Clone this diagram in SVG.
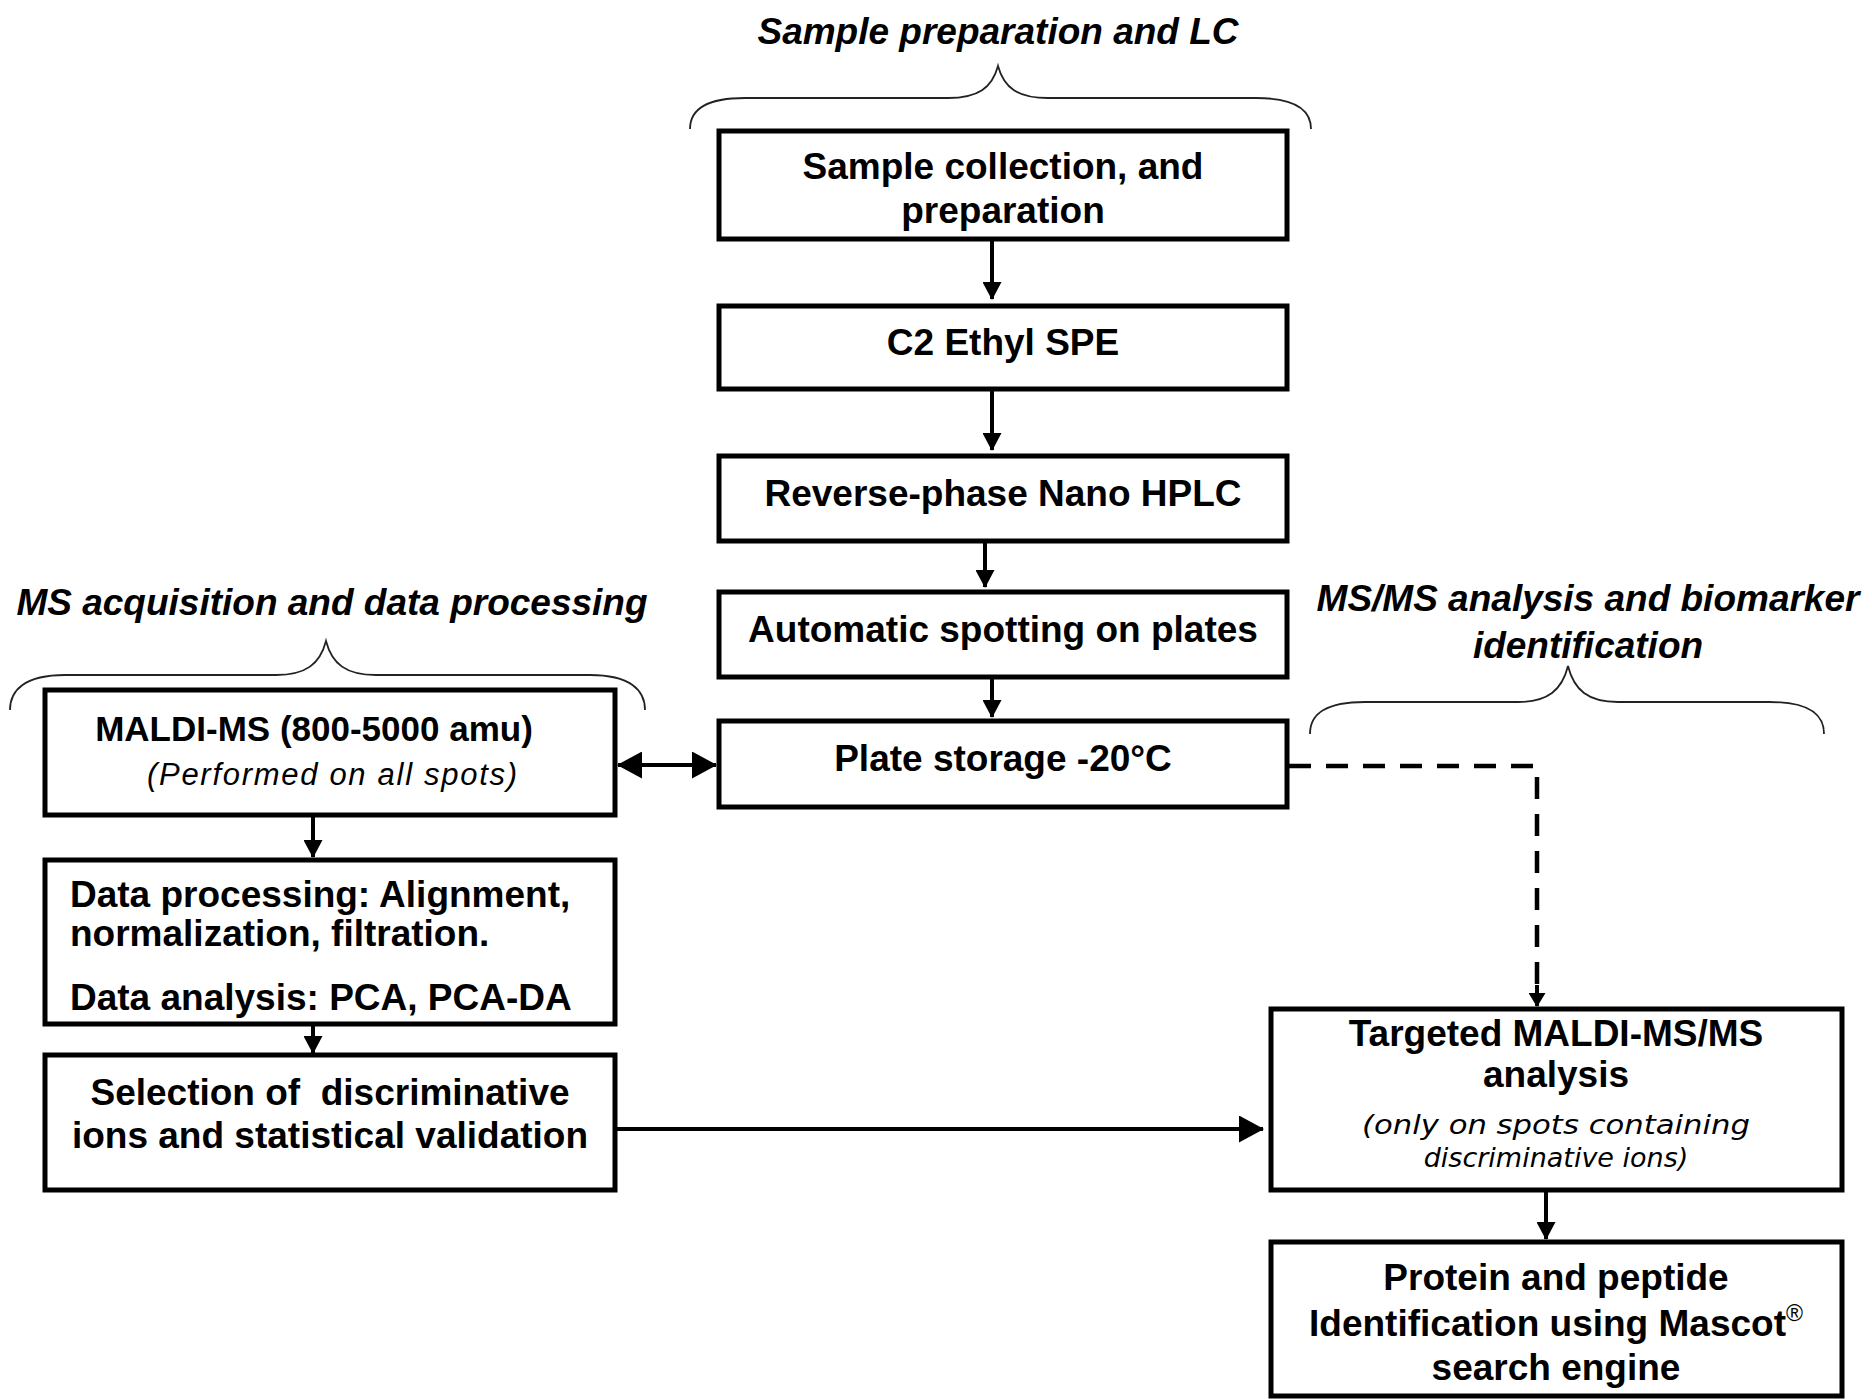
<svg xmlns="http://www.w3.org/2000/svg" width="1872" height="1399" viewBox="0 0 1872 1399">
<defs>
<marker id="ah" markerUnits="userSpaceOnUse" markerWidth="18" markerHeight="19" refX="17" refY="9.5" orient="auto-start-reverse" viewBox="0 0 18 19">
<path d="M0,0 L18,9.5 L0,19 Z" fill="#000"/>
</marker>
<marker id="ahb" markerUnits="userSpaceOnUse" markerWidth="25" markerHeight="27" refX="24" refY="13.5" orient="auto-start-reverse" viewBox="0 0 25 27">
<path d="M0,0 L25,13.5 L0,27 Z" fill="#000"/>
</marker>
<marker id="ahs" markerUnits="userSpaceOnUse" markerWidth="14" markerHeight="17" refX="13" refY="8.5" orient="auto" viewBox="0 0 14 17">
<path d="M0,0 L14,8.5 L0,17 Z" fill="#000"/>
</marker>
</defs>
<style>
.box{fill:#fff;stroke:#000;stroke-width:5}
.t{font-family:"Liberation Sans",Arial,sans-serif;font-weight:bold;font-size:37px;fill:#000;text-anchor:middle}
.tl{text-anchor:start}
.h{font-family:"Liberation Sans",Arial,sans-serif;font-weight:bold;font-style:italic;font-size:37px;fill:#000;text-anchor:middle}
.i{font-family:"Liberation Sans",Arial,sans-serif;font-style:italic;font-size:31px;fill:#000;text-anchor:middle}
.iv{font-family:"DejaVu Sans",sans-serif;font-style:italic;font-size:27px;fill:#000;text-anchor:middle}
.br{fill:none;stroke:#222;stroke-width:1.8}
.c{fill:none;stroke:#000;stroke-width:4}
.d{fill:none;stroke:#000;stroke-width:4.5;stroke-dasharray:22 15}
</style>
<rect width="1872" height="1399" fill="#fff"/>

<g id="section-labels">
<text class="h" x="998" y="44">Sample preparation and LC</text>
<text class="h" x="332" y="615">MS acquisition and data processing</text>
<text class="h" x="1588" y="611">MS/MS analysis and biomarker</text>
<text class="h" x="1588" y="658">identification</text>
<path class="br" d="M690,129 C690,110 705,98 745,98 L948,98 C978,98 992,88 998,66 C1004,88 1018,98 1048,98 L1256,98 C1296,98 1311,110 1311,129"/>
<path class="br" d="M10,710 C10,690 25,675 65,675 L276,675 C306,675 320,664 326,641 C332,664 346,675 376,675 L590,675 C630,675 645,690 645,710"/>
<path class="br" d="M1310,734 C1310,714 1325,702 1365,702 L1518,702 C1548,702 1562,690 1568,666 C1574,690 1588,702 1618,702 L1769,702 C1809,702 1824,714 1824,734"/>
</g>

<g id="connectors">
<line class="c" x1="992" y1="239" x2="992" y2="299" marker-end="url(#ah)"/>
<line class="c" x1="992" y1="389" x2="992" y2="450" marker-end="url(#ah)"/>
<line class="c" x1="985" y1="541" x2="985" y2="587" marker-end="url(#ah)"/>
<line class="c" x1="992" y1="677" x2="992" y2="717" marker-end="url(#ah)"/>
<line class="c" x1="618" y1="765" x2="716" y2="765" marker-start="url(#ahb)" marker-end="url(#ahb)"/>
<line class="c" x1="313" y1="815" x2="313" y2="857" marker-end="url(#ah)"/>
<line class="c" x1="313" y1="1024" x2="313" y2="1053" marker-end="url(#ah)"/>
<line class="c" x1="615" y1="1129" x2="1263" y2="1129" marker-end="url(#ahb)"/>
<path class="d" d="M1289,766 H1537 V992"/>
<line class="c" x1="1537" y1="985" x2="1537" y2="1006" marker-end="url(#ahs)"/>
<line class="c" x1="1546" y1="1190" x2="1546" y2="1239" marker-end="url(#ah)"/>
</g>

<g id="n1">
<rect class="box" x="719" y="131" width="568" height="108"/>
<text class="t" x="1003" y="179">Sample collection, and</text>
<text class="t" x="1003" y="223">preparation</text>
</g>
<g id="n2">
<rect class="box" x="719" y="306" width="568" height="83"/>
<text class="t" x="1003" y="355">C2 Ethyl SPE</text>
</g>
<g id="n3">
<rect class="box" x="719" y="456" width="568" height="85"/>
<text class="t" x="1003" y="506">Reverse-phase Nano HPLC</text>
</g>
<g id="n4">
<rect class="box" x="719" y="592" width="568" height="85"/>
<text class="t" x="1003" y="642">Automatic spotting on plates</text>
</g>
<g id="n5">
<rect class="box" x="719" y="721" width="568" height="86"/>
<text class="t" x="1003" y="771">Plate storage -20°C</text>
</g>
<g id="n6">
<rect class="box" x="45" y="690" width="570" height="125"/>
<text class="t" x="314" y="741" style="font-size:35px">MALDI-MS (800-5000 amu)</text>
<text class="i" x="332" y="785" textLength="370" lengthAdjust="spacing">(Performed on all spots)</text>
</g>
<g id="n7">
<rect class="box" x="45" y="860" width="570" height="164"/>
<text class="t tl" x="70" y="907">Data processing: Alignment,</text>
<text class="t tl" x="70" y="946">normalization, filtration.</text>
<text class="t tl" x="70" y="1010">Data analysis: PCA, PCA-DA</text>
</g>
<g id="n8">
<rect class="box" x="45" y="1055" width="570" height="135"/>
<text class="t" x="330" y="1105" xml:space="preserve">Selection of  discriminative</text>
<text class="t" x="330" y="1148">ions and statistical validation</text>
</g>
<g id="n9">
<rect class="box" x="1271" y="1009" width="571" height="181"/>
<text class="t" x="1556" y="1046">Targeted MALDI-MS/MS</text>
<text class="t" x="1556" y="1087">analysis</text>
<text class="iv" x="1556" y="1134" textLength="388" lengthAdjust="spacingAndGlyphs">(only on spots containing</text>
<text class="iv" x="1556" y="1167">discriminative ions)</text>
</g>
<g id="n10">
<rect class="box" x="1271" y="1242" width="571" height="154"/>
<text class="t" x="1556" y="1290">Protein and peptide</text>
<text class="t" x="1556" y="1336">Identification using Mascot<tspan style="font-size:23px;font-weight:normal" dy="-15">®</tspan></text>
<text class="t" x="1556" y="1380">search engine</text>
</g>
</svg>
